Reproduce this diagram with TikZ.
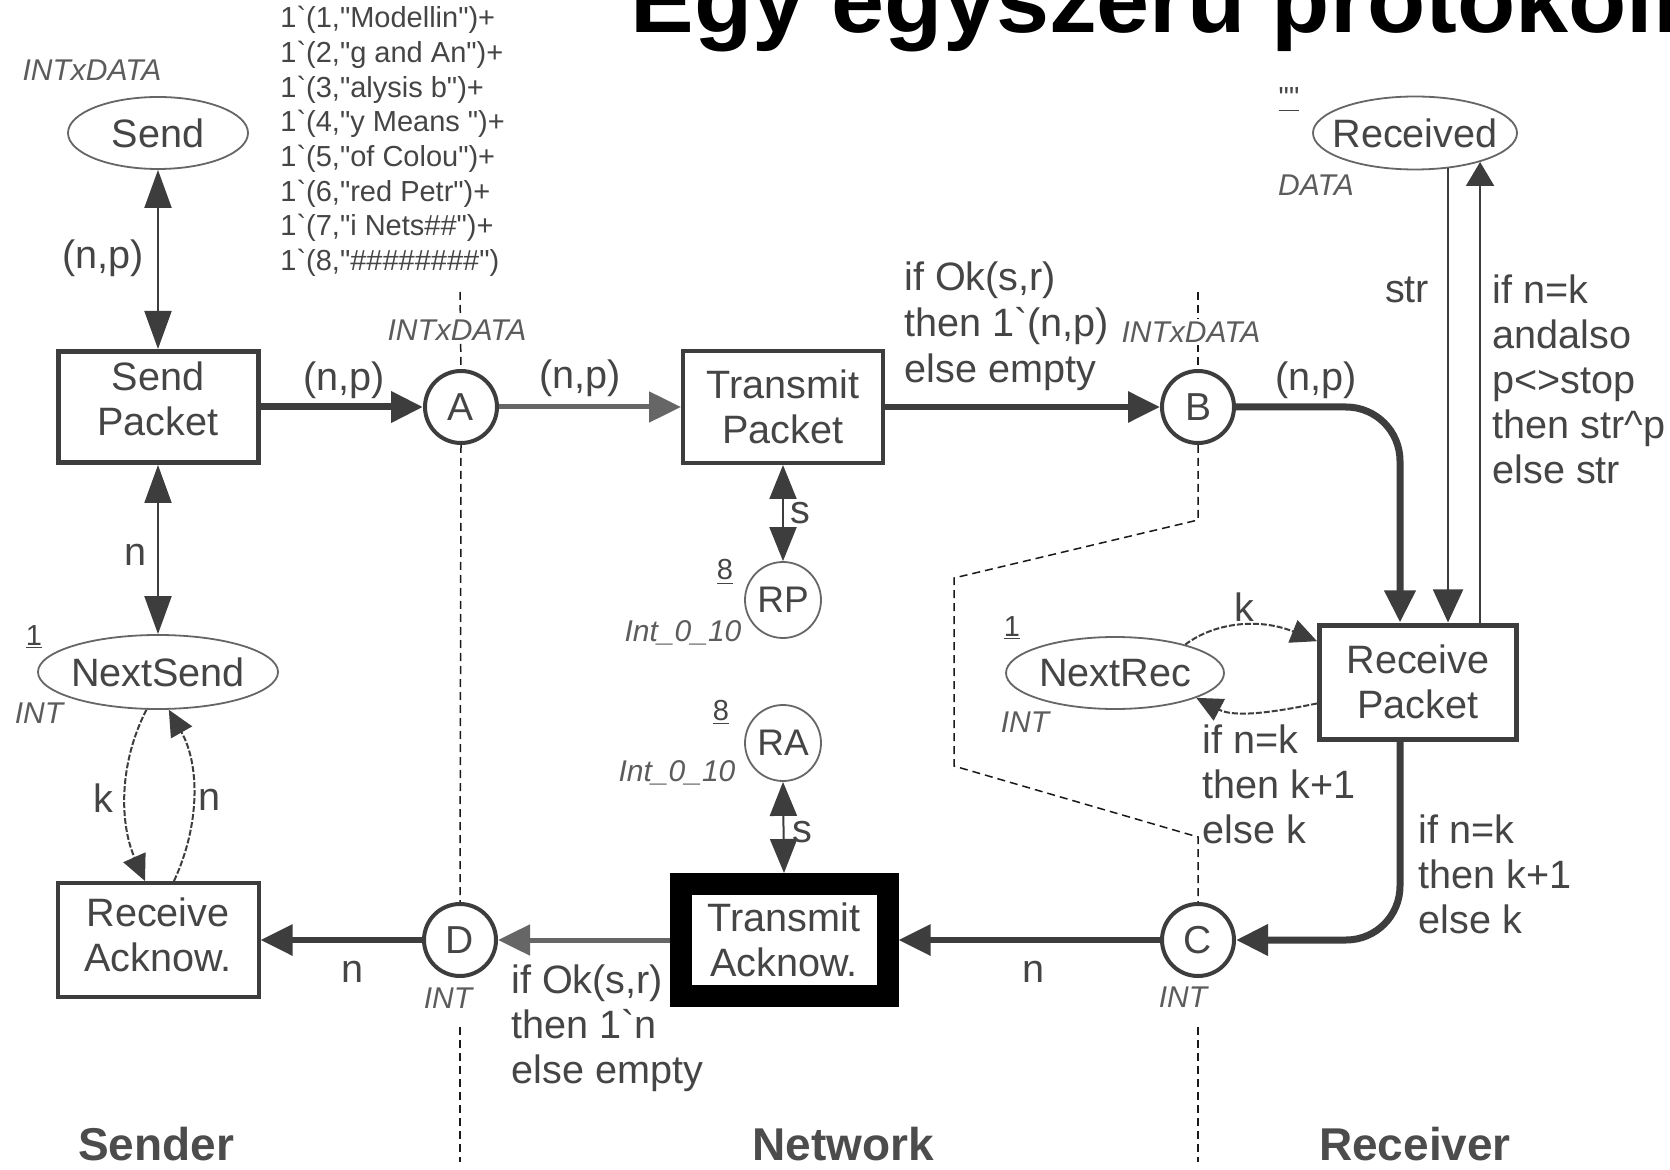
\documentclass[tikz,border=0pt]{standalone}
\usepackage{fontspec}
\newfontfamily\cpnfont{Liberation Sans}
\usetikzlibrary{arrows.meta,shapes.geometric}
\definecolor{ink}{gray}{0.24}
\definecolor{inkl}{gray}{0.40}
\definecolor{txt}{gray}{0.27}
\definecolor{typc}{gray}{0.36}
\definecolor{sectc}{gray}{0.10}
\definecolor{hdr}{gray}{0.30}
\tikzset{
  trans/.style={draw=ink, fill=white, rectangle, line width=2pt, align=center, inner sep=0pt, text=txt, font=\cpnfont\fontsize{19.8}{22.5}\selectfont},
  port/.style={draw=ink, fill=white, circle, line width=2pt, minimum size=36pt, inner sep=0pt, text=txt, font=\cpnfont\fontsize{19.5}{22}\selectfont},
  plc/.style={draw=inkl, fill=white, ellipse, line width=0.9pt, inner sep=0pt, text=txt, font=\cpnfont\fontsize{19.8}{22}\selectfont},
  rplc/.style={draw=inkl, fill=white, circle, line width=0.9pt, minimum size=38pt, inner sep=0pt, text=txt, font=\cpnfont\fontsize{18.5}{22}\selectfont},
  alab/.style={inner sep=0pt, text=txt, font=\cpnfont\fontsize{19.8}{22.5}\selectfont},
  mlab/.style={alab, align=left, anchor=base west},
  typ/.style={inner sep=0pt, text=typc, font=\cpnfont\itshape\fontsize{15}{17}\selectfont},
  tok/.style={inner sep=0pt, anchor=west, text=txt, font=\cpnfont\fontsize{14.5}{17}\selectfont},
  mrk/.style={inner sep=0pt, anchor=base, text=txt, font=\cpnfont\fontsize{14.5}{17}\selectfont},
  hdrlab/.style={inner sep=0pt, text=hdr, font=\cpnfont\bfseries\fontsize{23}{27}\selectfont},
  sectline/.style={draw=sectc, line width=0.75pt, dash pattern=on 4pt off 2.5pt},
  bigarc/.style={draw=ink, line width=3.5pt, -{Triangle[length=16pt,width=15pt]}},
  midarc/.style={draw=inkl, line width=2.5pt, -{Triangle[length=16pt,width=15pt]}},
  thinarc/.style={draw=ink, line width=1pt},
  darc/.style={draw=ink, line width=1pt, {Triangle[length=19pt,width=13.5pt]}-{Triangle[length=19pt,width=13.5pt]}},
  sarc/.style={draw=ink, line width=1pt, {Triangle[length=17pt,width=13.5pt]}-{Triangle[length=17pt,width=13.5pt]}},
  looparc/.style={draw=ink, line width=1pt, dash pattern=on 3pt off 1pt, -{Triangle[length=13pt,width=12pt]}},
}
\begin{document}
\begin{tikzpicture}[x=0.5pt,y=-0.5pt]
\useasboundingbox (0,0) rectangle (1670,1170);
\fill[white] (0,0) rectangle (1670,1170);
\clip (0,0) rectangle (1670,1170);

% title
\node[anchor=base west, inner sep=0pt, text=black, font=\cpnfont\bfseries\fontsize{46}{50}\selectfont] (title) at (630,33) {\scalebox{1.037}[1]{Egy egyszerű protokoll}};

% places and transitions
\node[plc, minimum width=90pt, minimum height=36pt] (Send) at (158,133) {\makebox[0pt]{Send}};
\node[trans, line width=2.5pt, minimum width=100pt, minimum height=55.5pt, text depth=8pt] (SendP) at (158,407) {Send\\Packet};
\node[plc, minimum width=120pt, minimum height=37pt] (NextSend) at (158,672) {\makebox[0pt]{NextSend}};
\node[trans, minimum width=100.5pt, minimum height=57pt, text depth=5pt] (RecA) at (158,940) {Receive\\Acknow.};
\node[port] (A) at (461,407) {A};
\node[port] (D) at (460,940) {D};
\node[trans, minimum width=100pt, minimum height=56pt] (TP) at (783,407) {Transmit\\Packet};
\node[rplc] (RP) at (783,600) {RP};
\node[rplc] (RA) at (783,743) {RA};
\node[trans, draw=black, line width=11pt, minimum width=103.5pt, minimum height=56pt] (TA) at (784,940) {Transmit\\Acknow.};
\node[port] (B) at (1198,407) {B};
\node[port] (C) at (1198,940) {C};
\node[plc, minimum width=102pt, minimum height=36.5pt] (Recd) at (1415,133) {\makebox[0pt]{Received}};
\node[plc, minimum width=109pt, minimum height=36pt] (NextRec) at (1115,673) {\makebox[0pt]{NextRec}};
\node[trans, line width=2.5pt, minimum width=98.5pt, minimum height=57pt] (RecP) at (1418,682) {Receive\\Packet};

% section boundaries
\coordinate (sa0) at (460,292); \coordinate (sa1) at (460,1027); \coordinate (sa2) at (460,1162);
\coordinate (sb0) at (1198,292); \coordinate (sb1) at (1198,520); \coordinate (sb2) at (954,578);
\coordinate (sb3) at (954,766); \coordinate (sb4) at (1198,837); \coordinate (sb5) at (1198,1027);
\coordinate (sb6) at (1198,1162);
\draw[sectline] (sa0) -- (A.north);
\draw[sectline] (A.south) -- (D.north);
\draw[sectline] (sa1) -- (sa2);
\draw[sectline] (sb0) -- (B.north);
\draw[sectline] (B.south) -- (sb1) -- (sb2) -- (sb3) -- (sb4) -- (C.north);
\draw[sectline] (sb5) -- (sb6);

% arcs
\draw[darc] (SendP.north) -- (Send.south);
\draw[darc] (SendP.south) -- (NextSend.north);
\draw[bigarc] (SendP.east) -- (A.west);
\draw[midarc] (A.east) -- (TP.west);
\draw[bigarc, line width=3pt] (TP.east) -- (B.west);
\coordinate (bturn) at (1400,407);
\draw[bigarc, rounded corners=27pt] (B.east) -- (bturn) -- (bturn |- RecP.north);
\draw[thinarc, -{Triangle[length=16.5pt,width=15pt]}] (Recd.-47.7) -- (Recd.-47.7 |- RecP.north);
\draw[thinarc, -{Triangle[length=12pt,width=14pt]}] (RecP.north -| Recd.-24.9) -- (Recd.-24.9);
\draw[sarc] (TP.south) -- (RP.north);
\draw[sarc] (RA.south) -- (TA.north);
\draw[looparc] (NextRec.22) .. controls (1215,622) and (1260,618) .. (RecP.158);
\draw[looparc] (RecP.192) .. controls (1275,712) and (1235,718) .. (NextRec.-17);
\coordinate (cturn) at (1400,940);
\draw[bigarc, rounded corners=27pt] (RecP.south -| cturn) -- (cturn) -- (C.east);
\draw[bigarc, line width=3pt] (C.west) -- (TA.east);
\draw[midarc] (TA.west) -- (D.east);
\draw[bigarc, line width=3pt] (D.west) -- (RecA.east);
\draw[looparc] (NextSend.-107.5) .. controls (118,765) and (120,825) .. ([xshift=-6.5pt]RecA.north);
\draw[looparc] ([xshift=8pt]RecA.north) .. controls (200,825) and (200,765) .. (NextSend.-74);

% initial marking of Send
\node[typ] (tySend) at (92,70) {INTxDATA};
\node[tok] (tk1) at (280,20) {1`(1,"Modellin")+};
\node[tok] (tk2) at (280,54.7) {1`(2,"g and An")+};
\node[tok] (tk3) at (280,89.4) {1`(3,"alysis b")+};
\node[tok] (tk4) at (280,124.1) {1`(4,"y Means ")+};
\node[tok] (tk5) at (280,158.8) {1`(5,"of Colou")+};
\node[tok] (tk6) at (280,193.5) {1`(6,"red Petr")+};
\node[tok] (tk7) at (280,228.2) {1`(7,"i Nets\#\#")+};
\node[tok] (tk8) at (280,262.9) {1`(8,"\#\#\#\#\#\#\#\#")};

% labels (multi-line labels anchored at the baseline of their last line)
\node[alab] (lSend) at (103,258) {(n,p)};
\node[alab] (lNS) at (136,555) {n};
\node[alab] (lSA) at (344,380) {(n,p)};
\node[typ, fill=white, inner sep=1.5pt] (tyA) at (457,330) {INTxDATA};
\node[alab] (lAT) at (580,378) {(n,p)};
\node[mlab, font=\cpnfont\fontsize{19.8}{23}\selectfont] (lTB) at (904,383) {if Ok(s,r)\\then 1`(n,p)\\else empty};
\node[typ, fill=white, inner sep=1.5pt] (tyB) at (1191,332) {INTxDATA};
\node[alab] (lBR) at (1316,380) {(n,p)};
\node[mrk] (mRecd) at (1289,108) {\underline{""}};
\node[typ] (tyRecd) at (1316,185) {DATA};
\node[alab] (lstr) at (1407,290) {str};
\node[mlab] (lRecd) at (1492,484) {if n=k\\andalso\\p<>stop\\then str\textasciicircum p\\else str};
\node[alab] (ls1) at (800,513) {s};
\node[mrk] (mRP) at (725,580) {\underline{8}};
\node[typ] (tyRP) at (683,633) {Int\_0\_10};
\node[mrk] (mNS) at (34,645) {\underline{1}};
\node[typ] (tyNS) at (39,713) {INT};
\node[mrk] (mRA) at (721,720) {\underline{8}};
\node[typ] (tyRA) at (677,773) {Int\_0\_10};
\node[alab] (ls2) at (802,832) {s};
\node[mrk] (mNR) at (1012,636) {\underline{1}};
\node[typ] (tyNR) at (1025,722) {INT};
\node[alab] (lk) at (1244,607) {k};
\node[mlab] (lNR) at (1202,843) {if n=k\\then k+1\\else k};
\node[mlab] (lRC) at (1418,933) {if n=k\\then k+1\\else k};
\node[alab] (lk2) at (103,798) {k};
\node[alab] (ln2) at (210,800) {n};
\node[alab] (lDR) at (353,972) {n};
\node[typ] (tyD) at (448,998) {INT};
\node[mlab] (lTD) at (511,1083) {if Ok(s,r)\\then 1`n\\else empty};
\node[alab] (lCT) at (1033,972) {n};
\node[typ] (tyC) at (1183,997) {INT};

% section headers
\node[hdrlab] (hS) at (156,1144) {Sender};
\node[hdrlab] (hN) at (843,1144) {Network};
\node[hdrlab] (hR) at (1415,1144) {Receiver};
\end{tikzpicture}
\end{document}
